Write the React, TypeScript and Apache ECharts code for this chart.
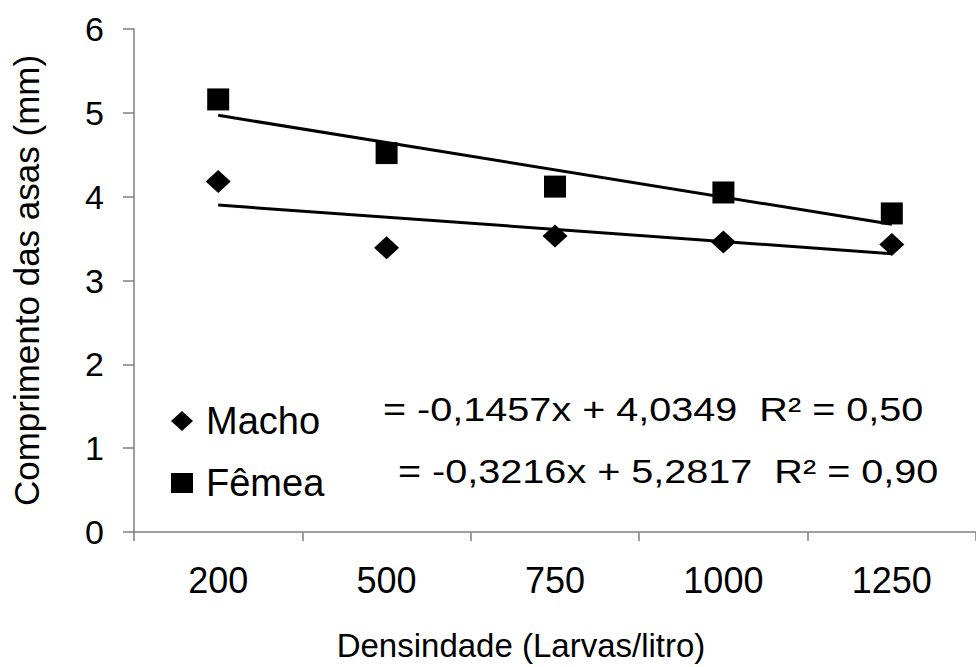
import React, { useEffect, useRef } from "react";
import * as echarts from "echarts";

const categories = ["200", "500", "750", "1000", "1250"];
const machoValues = [4.18, 3.39, 3.53, 3.46, 3.43];
const femeaValues = [5.16, 4.52, 4.12, 4.05, 3.8];
const machoTrend = [3.9, null, null, null, 3.32];
const femeaTrend = [4.97, null, null, null, 3.67];
const machoEquation = "= -0,1457x + 4,0349  R² = 0,50";
const femeaEquation = "= -0,3216x + 5,2817  R² = 0,90";
const xAxisTitle = "Densindade (Larvas/litro)";
const yAxisTitle = "Comprimento das asas (mm)";

const FONT = "'Liberation Sans', Arial, sans-serif";

export default function App() {
  const ref = useRef<HTMLDivElement>(null);
  useEffect(() => {
    if (!ref.current) return;
    const chart = echarts.init(ref.current, null, { renderer: "svg" });
    const axisGrey = "#7f7f7f";
    chart.setOption({
      animation: false,
      backgroundColor: "#ffffff",
      textStyle: { fontFamily: FONT },
      grid: { left: 134, top: 29, bottom: 127, right: -22, containLabel: false },
      xAxis: {
        type: "category",
        data: categories,
        boundaryGap: true,
        name: xAxisTitle,
        nameLocation: "middle",
        nameGap: 97,
        nameTextStyle: { fontSize: 33, color: "#000", fontFamily: FONT, padding: [0, 68, 0, 0] },
        axisLine: { lineStyle: { color: axisGrey, width: 1.5 } },
        axisTick: { show: true, length: 9, lineStyle: { color: axisGrey, width: 1.5 } },
        axisLabel: { fontSize: 36, color: "#000", margin: 30, fontFamily: FONT },
        splitLine: { show: false },
      },
      yAxis: {
        type: "value",
        min: 0,
        max: 6,
        interval: 1,
        name: yAxisTitle,
        nameLocation: "middle",
        nameRotate: 90,
        nameGap: 90,
        nameTextStyle: { fontSize: 35, color: "#000", fontFamily: FONT },
        axisLine: { show: true, lineStyle: { color: axisGrey, width: 1.5 } },
        axisTick: { show: true, length: 11, lineStyle: { color: axisGrey, width: 1.5 } },
        axisLabel: { fontSize: 34, color: "#000", margin: 30, fontFamily: FONT },
        splitLine: { show: false },
      },
      legend: {
        orient: "vertical",
        left: 166,
        top: 397,
        itemGap: 24,
        itemWidth: 22,
        itemHeight: 20,
        itemStyle: { opacity: 1, color: "#000" },
        data: [
          { name: "Macho", icon: "diamond" },
          { name: "Fêmea", icon: "rect" },
        ],
        textStyle: { fontSize: 38, color: "#000", fontFamily: FONT, padding: [0, 0, 0, 8] },
      },
      graphic: [
        {
          type: "text",
          x: 383,
          y: 410,
          scaleX: 1.2,
          style: {
            text: machoEquation,
            font: `33px ${FONT}`,
            fill: "#000",
            align: "left",
            verticalAlign: "middle",
          },
        },
        {
          type: "text",
          x: 398,
          y: 472,
          scaleX: 1.2,
          style: {
            text: femeaEquation,
            font: `33px ${FONT}`,
            fill: "#000",
            align: "left",
            verticalAlign: "middle",
          },
        },
      ],
      series: [
        {
          name: "Macho trend",
          type: "line",
          data: machoTrend,
          connectNulls: true,
          showSymbol: false,
          symbol: "none",
          lineStyle: { color: "#000", width: 3 },
          z: 2,
          silent: true,
        },
        {
          name: "Fêmea trend",
          type: "line",
          data: femeaTrend,
          connectNulls: true,
          showSymbol: false,
          symbol: "none",
          lineStyle: { color: "#000", width: 3 },
          z: 2,
          silent: true,
        },
        {
          name: "Macho",
          type: "scatter",
          data: machoValues,
          symbol: "diamond",
          symbolSize: [25, 23],
          itemStyle: { color: "#000", opacity: 1 },
          z: 3,
        },
        {
          name: "Fêmea",
          type: "scatter",
          data: femeaValues,
          symbol: "rect",
          symbolSize: 22,
          itemStyle: { color: "#000", opacity: 1, borderRadius: 3 },
          z: 3,
        },
      ],
    });
    return () => chart.dispose();
  }, []);
  return (
    <div
      ref={ref}
      style={{ position: "fixed", left: 0, top: 0, width: 976, height: 667, background: "#fff" }}
    />
  );
}
